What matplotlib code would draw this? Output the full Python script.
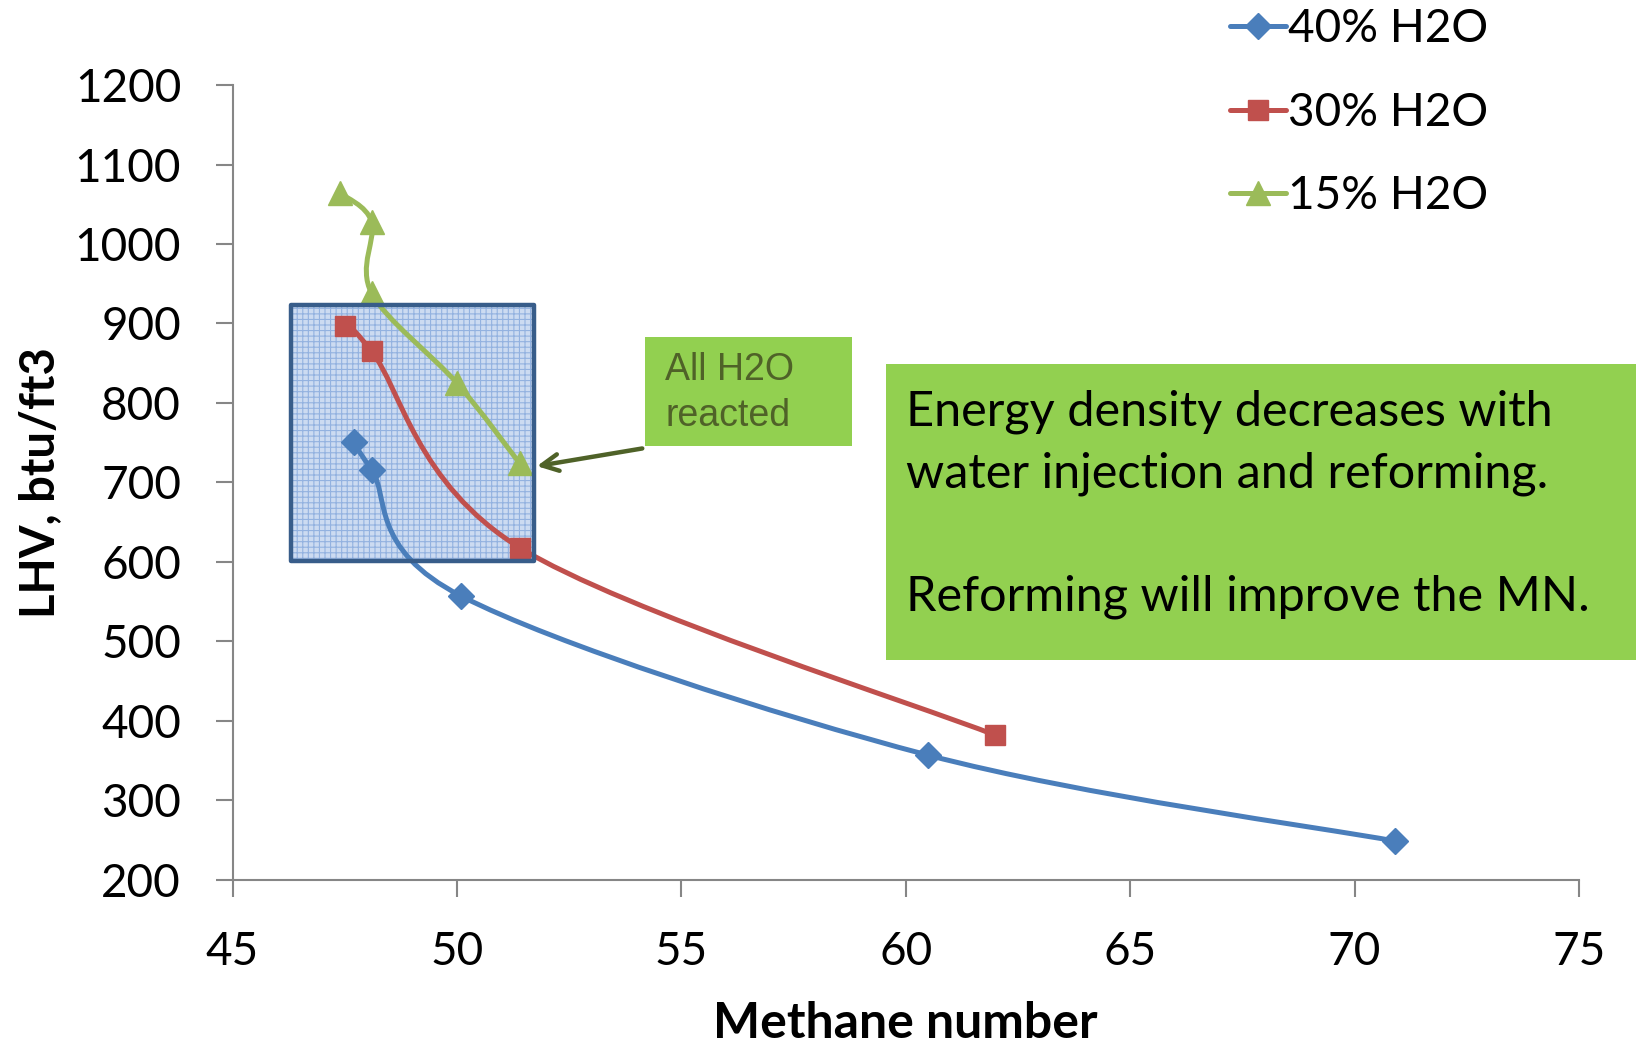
import numpy as np
import matplotlib

matplotlib.use("Agg")
import matplotlib.pyplot as plt
from matplotlib.path import Path
from matplotlib.patches import PathPatch, Rectangle
from matplotlib.lines import Line2D

# data
mn_40 = [47.7, 48.1, 50.1, 60.5, 70.9]
lhv_40 = [751, 716, 557, 357, 249]
mn_30 = [47.5, 48.1, 51.4, 62.0]
lhv_30 = [897, 865, 618, 382]
mn_15 = [47.4, 48.1, 48.1, 50.0, 51.4]
lhv_15 = [1064, 1028, 938, 825, 724]
series_labels = ["40% H2O", "30% H2O", "15% H2O"]

x_ticks = [45, 50, 55, 60, 65, 70, 75]
y_ticks = [200, 300, 400, 500, 600, 700, 800, 900, 1000, 1100, 1200]

# highlighted region (data coords)
box_x = (46.3, 51.72)
box_y = (601, 923)

BODY_FONT = "Lato"
SPINE = "#868686"


def smooth_path(x, y):
    # Catmull-Rom -> cubic Bezier, like Excel's smoothed lines
    pts = np.column_stack([x, y]).astype(float)
    n = len(pts)
    verts = [pts[0]]
    codes = [Path.MOVETO]
    for i in range(n - 1):
        p0 = pts[i - 1] if i > 0 else pts[i]
        p1 = pts[i]
        p2 = pts[i + 1]
        p3 = pts[i + 2] if i + 2 < n else pts[i + 1]
        verts += [p1 + (p2 - p0) / 6, p2 - (p3 - p1) / 6, p2]
        codes += [Path.CURVE4] * 3
    return Path(verts, codes)


plt.rcParams["hatch.linewidth"] = 0.8

fig = plt.figure(figsize=(16.42, 10.43), dpi=100)
ax = fig.add_axes([0.1416, 0.1563, 0.8200, 0.7622])

# patterned box sits behind the curves
ax.add_patch(Rectangle((box_x[0], box_y[0]), box_x[1] - box_x[0],
                       box_y[1] - box_y[0], facecolor="#CCDBF1",
                       edgecolor="#93B2E0", hatch="+++", linewidth=0, zorder=1))
ax.add_patch(Rectangle((box_x[0], box_y[0]), box_x[1] - box_x[0],
                       box_y[1] - box_y[0], fill=False, edgecolor="#385D8A",
                       linewidth=3.2, joinstyle="round", zorder=4))

styles = [
    (mn_40, lhv_40, "#4A7EBB", "D", 13),
    (mn_30, lhv_30, "#C0504D", "s", 14),
    (mn_15, lhv_15, "#9BBB59", "^", 17),
]
handles = []
for (xs, ys, color, marker, ms), label in zip(styles, series_labels):
    ax.add_patch(
        PathPatch(smooth_path(xs, ys), facecolor="none", edgecolor=color,
                  linewidth=3.6, capstyle="round", zorder=2)
    )
    ax.plot(xs, ys, linestyle="none", marker=marker, markersize=ms,
            color=color, markeredgecolor=color, zorder=3)
    handles.append(Line2D([0], [0], color=color, linewidth=3.6, marker=marker,
                          markersize=ms, solid_capstyle="round", label=label))

ax.set_xlim(45, 75)
ax.set_ylim(200, 1200)
ax.set_xticks(x_ticks)
ax.set_yticks(y_ticks)
for side in ("top", "right"):
    ax.spines[side].set_visible(False)
for side in ("left", "bottom"):
    ax.spines[side].set_color(SPINE)
    ax.spines[side].set_linewidth(1.5)
ax.tick_params(axis="both", direction="out", length=12, width=1.5,
               color=SPINE, pad=25, labelsize=33)
for lab in ax.get_xticklabels() + ax.get_yticklabels():
    lab.set_fontfamily(BODY_FONT)

ax.set_xlabel("Methane number", fontsize=36, fontweight="bold",
              family=BODY_FONT, va="center")
ax.xaxis.set_label_coords(0.5, -0.181)
ax.set_ylabel("LHV, btu/ft3", fontsize=34, fontweight="bold",
              family=BODY_FONT, va="center")
ax.yaxis.set_label_coords(-0.143, 0.5)

fig.legend(handles=handles, loc="upper left", bbox_to_anchor=(0.749, 0.992),
           frameon=False, prop={"family": BODY_FONT, "size": 33},
           handlelength=1.22, handletextpad=0.05, labelspacing=0.9,
           borderpad=0, borderaxespad=0, numpoints=1)

# "All H2O reacted" callout
fig.patches.append(Rectangle((645 / 1642, 1 - 446 / 1043), 207 / 1642,
                             109 / 1043, transform=fig.transFigure,
                             facecolor="#92D050", edgecolor="none", zorder=1))
fig.text(665 / 1642, 1 - 393 / 1043, "All H2O\nreacted", fontsize=27,
         family="Liberation Sans", color="#4F6228", va="center", ha="left",
         linespacing=1.35)
ax.annotate("", xy=(51.72, 720), xycoords="data",
            xytext=(645 / 1642, 1 - 448 / 1043), textcoords="figure fraction",
            arrowprops=dict(arrowstyle="->,head_length=1.2,head_width=0.6",
                            color="#4F6228", linewidth=3.2), zorder=6)

# main message box
fig.patches.append(Rectangle((886 / 1642, 1 - 660 / 1043), 750 / 1642,
                             296 / 1043, transform=fig.transFigure,
                             facecolor="#92D050", edgecolor="none", zorder=1))
fig.text(906 / 1642, 1 - 504 / 1043,
         "Energy density decreases with\nwater injection and reforming.\n\n"
         "Reforming will improve the MN.",
         fontsize=35, family=BODY_FONT, color="black", va="center", ha="left",
         linespacing=1.48)

fig.savefig("out.png", dpi=100)
